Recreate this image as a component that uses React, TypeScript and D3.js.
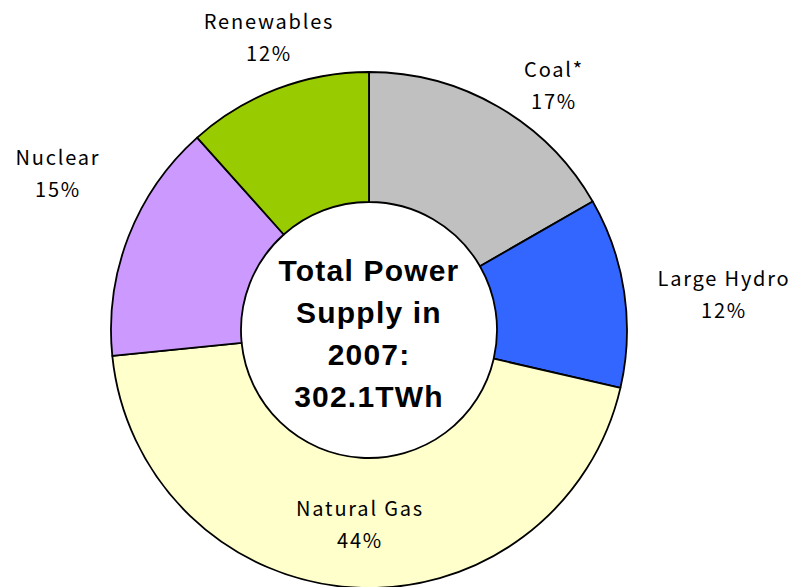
import { useMemo } from 'react';
import * as d3 from 'd3';

// share of total power supply, clockwise from 12 o'clock
const sources = ['Coal*', 'Large Hydro', 'Natural Gas', 'Nuclear', 'Renewables'];
const shares = [16.7, 11.9, 44.8, 15.0, 11.6];
const shareLabels = ['17%', '12%', '44%', '15%', '12%'];
const colors = ['#C0C0C0', '#3366FF', '#FFFFCC', '#CC99FF', '#99CC00'];
const centerLines = ['Total Power', 'Supply in', '2007:', '302.1TWh'];

// first-line baseline of each label, relative to the pie centre
const labelOffsets: [number, number][] = [
  [185, -253],
  [355, -44],
  [-9, 186],
  [-311, -165],
  [-100, -301],
];

const W = 796;
const H = 587;
const cx = 369;
const cy = 330;
const outerR = 258;
const innerR = 128;

export default function App() {
  const slices = useMemo(() => {
    const pie = d3.pie<number>().sort(null).value((d) => d);
    return pie(shares);
  }, []);

  const arc = d3.arc<d3.PieArcDatum<number>>().innerRadius(innerR).outerRadius(outerR);

  return (
    <svg
      width={W}
      height={H}
      style={{ position: 'fixed', left: 0, top: 0, background: '#fff' }}
    >
      <g transform={`translate(${cx},${cy})`}>
        {slices.map((s, i) => (
          <path
            key={sources[i]}
            d={arc(s) || ''}
            fill={colors[i]}
            stroke="#000"
            strokeWidth={1.8}
            strokeLinejoin="round"
          />
        ))}
        {centerLines.map((t, i) => (
          <text
            key={t}
            x={0}
            y={-49 + i * 42}
            textAnchor="middle"
            fontFamily="'Liberation Sans', Arial, sans-serif"
            fontWeight="bold"
            fontSize={30}
            letterSpacing={1.2}
            fill="#000"
          >
            {t}
          </text>
        ))}
        {sources.map((name, i) => {
          const [dx, dy] = labelOffsets[i];
          return (
            <text
              key={name}
              textAnchor="middle"
              fontFamily="'Noto Sans CJK JP', 'Noto Sans', sans-serif"
              fontSize={20}
              letterSpacing={1.8}
              fill="#000"
            >
              <tspan x={dx} y={dy}>{name}</tspan>
              <tspan x={dx} y={dy + 32}>{shareLabels[i]}</tspan>
            </text>
          );
        })}
      </g>
    </svg>
  );
}
